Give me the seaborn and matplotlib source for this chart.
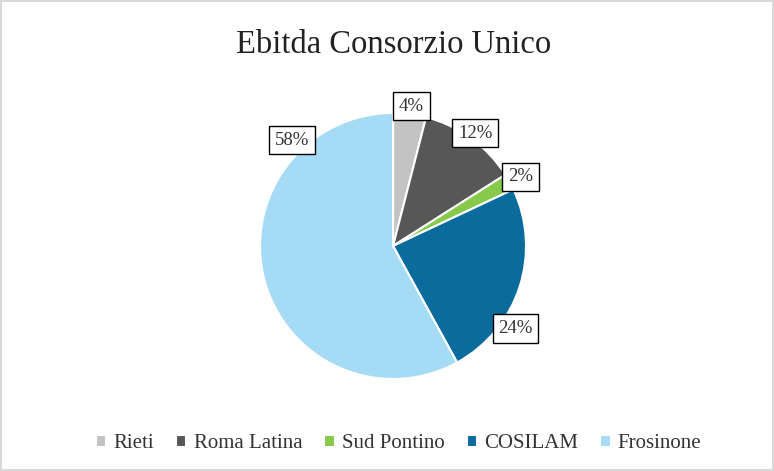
import matplotlib
matplotlib.use("Agg")
import numpy as np
import matplotlib.pyplot as plt
import seaborn as sns

# data
categories = ["Rieti", "Roma Latina", "Sud Pontino", "COSILAM", "Frosinone"]
shares = [4, 12, 2, 24, 58]
colors = ["#c3c3c3", "#575757", "#86c94b", "#0a6c9c", "#a6dbf6"]
title = "Ebitda Consorzio Unico"

sns.set_theme(style="white")
plt.rcParams["font.family"] = ["Liberation Serif", "DejaVu Serif"]

fig = plt.figure(figsize=(7.74, 4.71), dpi=100)
fig.patch.set_edgecolor("#d9d9d9")
fig.patch.set_linewidth(1.5)

ax = fig.add_axes([0.3016, 0.1389, 0.4124, 0.6777])
wedges, _ = ax.pie(shares, colors=colors, startangle=90, counterclock=False,
                   radius=1.0, wedgeprops=dict(edgecolor="white", linewidth=1.5))
ax.set_xlim(-1.2, 1.2)
ax.set_ylim(-1.2, 1.2)
ax.set_aspect("equal")
ax.axis("off")

# label placement: (angle in degrees, distance in radii) per slice
label_pos = [(82.5, 1.06), (54, 1.05), (28.5, 1.09), (-34, 1.11), (133.6, 1.10)]
for val, (ang, dist) in zip(shares, label_pos):
    a = np.deg2rad(ang)
    ax.text(dist * np.cos(a), dist * np.sin(a), f"{val}%", ha="center", va="center",
            fontsize=13.5, color="#333333",
            bbox=dict(boxstyle="square,pad=0.3", fc="white", ec="black", lw=1))

fig.text(0.508, 0.905, title, ha="center", va="center", fontsize=23.5, color="#222222")

fig.legend(wedges, categories, loc="center", bbox_to_anchor=(0.515, 0.058), ncol=5,
           frameon=False, fontsize=15, handlelength=0.5, handleheight=0.5,
           handletextpad=0.35, columnspacing=1.05, labelcolor="#333333")

fig.savefig("out.png", dpi=100)
